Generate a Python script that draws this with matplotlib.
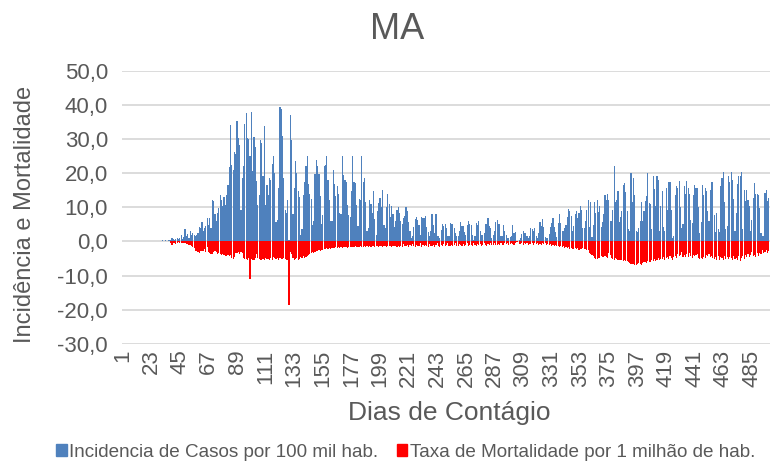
import numpy as np
import matplotlib
matplotlib.use("Agg")
import matplotlib.pyplot as plt
from matplotlib.patches import Patch
from matplotlib.ticker import FuncFormatter

# Incidencia diaria de casos por 100 mil hab. (dia 1 em diante, 7 dias por linha)
incidencia = [
    0, 0, 0, 0, 0, 0, 0,
    0, 0, 0, 0, 0, 0, 0,
    0, 0, 0, 0, 0, 0, 0,
    0.1, 0.1, 0.2, 0.1, 0.1, 0.2, 0.2,
    0.1, 0.2, 0.2, 0.3, 0.2, 0.3, 0.2,
    0.5, 0.3, 0.4, 0.9, 0.6, 0.4, 0.8,
    0.9, 0.7, 1.0, 2.0, 0.8, 1.2, 3.5,
    1.5, 2.2, 1.0, 3.0, 2.0, 2.4, 2.0,
    1.5, 2.0, 2.6, 4.2, 4.0, 5.6, 3.0,
    4.0, 4.5, 6.9, 4.8, 7.0, 4.0, 12.0,
    11.7, 7.9, 6.0, 8.3, 9.8, 13.7, 12.0,
    10.3, 12.9, 10.6, 13.5, 16.4, 21.9, 34.0,
    22.4, 21.0, 26.3, 25.5, 35.2, 30.2, 28.3,
    9.3, 18.5, 22.0, 34.4, 37.5, 30.4, 30.0,
    25.0, 38.0, 20.5, 30.5, 27.5, 17.8, 10.8,
    13.7, 29.7, 28.7, 19.0, 33.8, 10.8, 16.6,
    13.7, 18.5, 18.0, 22.7, 24.9, 20.0, 5.6,
    6.4, 15.6, 39.2, 38.7, 30.7, 18.5, 9.3,
    8.3, 12.0, 0.4, 37.0, 29.7, 7.9, 15.6,
    23.4, 20.0, 14.7, 12.9, 2.0, 3.5, 13.7,
    17.4, 22.0, 24.9, 16.9, 14.0, 12.5, 4.7,
    6.0, 19.8, 23.9, 22.1, 19.8, 13.2, 5.2,
    7.6, 22.1, 22.4, 25.0, 18.0, 12.0, 6.1,
    6.1, 21.0, 16.9, 13.2, 16.1, 14.0, 8.2,
    7.9, 25.0, 19.5, 18.0, 17.4, 10.8, 7.7,
    7.1, 14.7, 24.9, 17.4, 17.1, 10.8, 4.5,
    12.5, 12.0, 25.0, 17.4, 18.7, 11.6, 3.0,
    4.0, 12.0, 11.0, 8.4, 14.7, 6.7, 1.8,
    9.0, 11.3, 12.7, 10.0, 15.1, 4.8, 4.0,
    10.0, 13.9, 11.0, 7.1, 10.3, 7.9, 4.2,
    6.0, 9.3, 10.0, 8.3, 6.1, 5.1, 6.9,
    7.4, 10.1, 8.8, 5.6, 3.2, 1.0, 1.7,
    4.2, 6.6, 7.1, 6.4, 4.7, 2.0, 7.1,
    6.8, 6.9, 7.3, 4.3, 2.8, 1.5, 3.0,
    7.9, 4.8, 2.5, 7.9, 1.7, 1.5, 1.0,
    3.3, 5.2, 4.6, 5.1, 4.0, 1.5, 1.5,
    5.4, 5.2, 5.2, 4.0, 2.5, 1.5, 1.7,
    3.2, 5.6, 4.5, 4.5, 2.7, 1.8, 4.9,
    5.9, 5.1, 4.9, 2.0, 0.3, 1.5, 5.4,
    4.7, 6.1, 3.0, 1.8, 1.8, 2.5, 5.1,
    5.1, 6.9, 4.5, 4.0, 0.9, 2.0, 3.0,
    5.6, 6.4, 5.0, 5.0, 1.6, 1.6, 4.7,
    3.2, 1.8, 1.0, 1.0, 1.3, 1.6, 4.7,
    2.5, 2.7, 0.2, 0.1, 0.3, 1.0, 2.2,
    3.0, 2.5, 2.5, 1.5, 0.9, 1.5, 4.0,
    3.7, 3.0, 3.8, 1.5, 1.0, 2.5, 5.6,
    4.5, 6.7, 4.2, 1.4, 0.9, 0.9, 2.1,
    4.3, 5.4, 6.9, 4.2, 2.8, 1.3, 5.4,
    7.9, 5.4, 3.0, 3.0, 4.0, 4.9, 7.1,
    9.5, 8.8, 7.4, 3.0, 4.5, 8.1, 8.8,
    6.9, 8.3, 10.5, 9.3, 4.0, 3.8, 6.1,
    9.3, 12.0, 4.2, 11.6, 1.2, 4.7, 11.6,
    8.2, 12.0, 8.5, 10.3, 4.2, 5.7, 7.9,
    13.7, 12.0, 13.9, 12.0, 5.9, 5.9, 9.3,
    22.1, 11.6, 12.0, 14.9, 5.6, 7.1, 8.8,
    16.6, 17.1, 14.5, 8.8, 3.5, 3.0, 20.0,
    11.6, 18.5, 13.7, 3.2, 2.7, 4.0, 6.1,
    11.6, 6.1, 8.8, 11.8, 13.4, 20.0, 11.3,
    11.0, 3.5, 19.0, 15.3, 10.3, 19.2, 18.0,
    3.0, 10.5, 14.7, 4.2, 3.0, 15.6, 9.3,
    17.4, 17.4, 9.3, 1.1, 1.6, 13.7, 16.1,
    15.6, 17.8, 10.0, 4.0, 5.0, 16.1, 13.9,
    17.8, 15.6, 13.9, 6.4, 5.4, 13.7, 16.6,
    15.5, 15.6, 10.2, 2.5, 5.6, 16.4, 13.7,
    15.6, 14.9, 9.0, 5.9, 15.1, 17.4, 17.4,
    7.7, 2.7, 8.3, 3.5, 2.8, 16.1, 18.7,
    20.3, 11.4, 3.5, 4.5, 19.0, 17.5, 20.3,
    18.0, 12.5, 3.2, 8.3, 16.8, 19.0, 19.0,
    20.3, 3.5, 15.1, 11.8, 15.1, 12.0, 10.3,
    3.2, 6.4, 12.6, 17.1, 13.9, 13.9, 13.7,
    9.7, 2.5, 1.6, 1.6, 14.2, 15.1, 11.8,
    12.6,
]

# Taxa de mortalidade diaria por 1 milhao de hab. (desenhada para baixo)
mortalidade = [
    0, 0, 0, 0, 0, 0, 0,
    0, 0, 0, 0, 0, 0, 0,
    0, 0, 0, 0, 0, 0, 0,
    0, 0, 0, 0, 0, 0, 0,
    0, 0, 0, 0, 0, 0, 0,
    0, 0, -0.4, -1.1, -0.5, -0.6, -0.7,
    -0.4, -0.3, -0.5, -0.5, -0.6, -0.5, -0.6,
    -0.7, -0.8, -0.9, -1.0, -1.4, -1.7, -1.9,
    -2.8, -2.8, -3.0, -3.3, -2.8, -2.8, -2.8,
    -2.1, -3.0, -1.7, -3.0, -3.3, -3.6, -3.8,
    -3.0, -2.8, -3.2, -3.6, -3.5, -3.8, -3.9,
    -3.6, -4.0, -4.2, -4.3, -4.0, -4.2, -4.1,
    -4.8, -5.0, -4.5, -3.3, -3.5, -3.2, -3.6,
    -3.1, -3.5, -4.7, -5.0, -5.2, -5.4, -4.9,
    -10.9, -5.2, -5.4, -5.3, -4.9, -3.8, -4.8,
    -5.2, -5.3, -5.3, -5.1, -5.3, -4.8, -5.2,
    -5.1, -5.3, -4.8, -5.3, -4.6, -4.8, -5.1,
    -4.8, -5.3, -4.8, -5.0, -5.2, -4.8, -5.0,
    -5.4, -5.5, -18.6, -3.2, -3.6, -4.8, -5.3,
    -5.0, -4.8, -5.3, -5.2, -4.6, -4.8, -4.3,
    -4.7, -4.6, -4.4, -4.0, -3.8, -3.5, -3.2,
    -3.3, -3.0, -2.8, -2.9, -2.6, -2.7, -2.4,
    -2.5, -2.2, -2.3, -2.0, -2.1, -1.9, -2.1,
    -1.9, -1.8, -2.0, -1.7, -1.8, -1.6, -1.9,
    -1.7, -1.8, -1.6, -1.7, -1.5, -1.8, -1.6,
    -1.5, -1.7, -1.5, -1.6, -1.4, -1.6, -1.5,
    -1.7, -1.4, -1.5, -1.6, -1.3, -1.5, -1.4,
    -1.6, -1.3, -1.5, -1.4, -1.3, -1.5, -1.4,
    -1.2, -1.5, -1.4, -1.3, -1.5, -1.2, -1.4,
    -1.5, -1.3, -1.4, -1.2, -1.5, -1.3, -1.4,
    -1.2, -1.5, -1.3, -1.5, -1.2, -1.6, -0.8,
    -1.4, -1.3, -1.0, -1.5, -1.1, -1.4, -0.7,
    -1.3, -1.5, -1.0, -1.4, -1.2, -0.6, -1.5,
    -1.1, -1.4, -0.9, -1.3, -1.5, -0.7, -1.2,
    -1.4, -1.0, -1.5, -1.1, -0.6, -1.3, -1.5,
    -1.0, -1.2, -0.8, -1.4, -1.1, -0.5, -1.3,
    -1.2, -0.9, -1.4, -1.0, -0.6, -1.2, -1.3,
    -0.8, -1.1, -1.2, -0.7, -1.3, -1.0, -0.5,
    -1.2, -1.1, -0.9, -1.2, -0.6, -1.0, -1.3,
    -0.8, -1.1, -0.7, -1.2, -1.0, -0.5, -1.1,
    -1.2, -0.8, -1.0, -0.6, -1.1, -0.9, -0.5,
    -1.0, -1.1, -0.7, -1.0, -0.5, -0.9, -1.0,
    -0.6, -0.8, -0.4, -0.9, -0.7, -0.5, -0.8,
    -0.9, -0.4, -0.3, -0.2, -0.7, -0.8, -0.5,
    -0.9, -0.6, -0.8, -0.4, -0.9, -0.7, -0.8,
    -0.5, -0.9, -0.6, -0.8, -0.4, -0.9, -0.7,
    -1.0, -0.6, -0.8, -0.5, -1.0, -0.8, -1.1,
    -0.7, -1.2, -1.0, -1.3, -0.9, -1.4, -1.2,
    -1.6, -1.3, -1.7, -1.4, -1.8, -1.6, -2.0,
    -1.7, -2.2, -1.9, -2.1, -2.3, -1.8, -2.2,
    -2.0, -2.4, -2.1, -2.3, -2.0, -2.2, -2.2,
    -2.4, -2.6, -3.3, -3.6, -4.0, -4.3, -4.8,
    -5.0, -5.2, -4.9, -4.7, -4.3, -4.5, -4.6,
    -4.4, -4.5, -4.7, -3.4, -4.0, -4.8, -5.0,
    -5.4, -4.8, -5.2, -5.5, -5.3, -5.4, -5.5,
    -5.6, -5.4, -5.8, -5.7, -6.0, -6.2, -6.5,
    -6.7, -6.5, -6.8, -6.9, -6.6, -6.3, -6.5,
    -6.8, -6.4, -6.1, -6.0, -6.2, -5.8, -5.9,
    -6.1, -5.5, -5.7, -5.2, -5.6, -5.4, -4.8,
    -5.5, -5.0, -5.2, -4.6, -5.3, -4.9, -4.6,
    -5.1, -4.4, -4.8, -5.3, -4.5, -4.2, -4.9,
    -3.8, -4.3, -4.0, -3.1, -4.5, -3.9, -4.6,
    -3.8, -4.5, -3.4, -4.2, -4.7, -3.9, -4.4,
    -4.1, -3.6, -4.8, -5.1, -4.7, -5.2, -4.6,
    -4.9, -3.9, -4.4, -3.7, -4.6, -4.2, -4.8,
    -5.0, -4.5, -5.3, -4.4, -5.5, -4.6, -4.9,
    -5.3, -4.2, -5.0, -4.5, -5.2, -4.6, -4.9,
    -5.4, -4.3, -5.0, -4.7, -5.5, -4.4, -5.7,
    -4.8, -4.2, -5.0, -4.1, -4.6, -3.8, -4.5,
    -4.0, -3.2, -4.4, -3.9, -4.6, -3.5, -4.2,
    -3.4, -3.8, -2.6, -3.5, -3.1, -2.4, -3.3,
    -2.9,
]

dias = np.arange(1, len(incidencia) + 1)
ticks_dias = list(range(1, 486, 22))
ticks_y = [-30, -20, -10, 0, 10, 20, 30, 40, 50]

rotulo_casos = "Incidencia de Casos por 100 mil hab."
rotulo_obitos = "Taxa de Mortalidade por 1 milhão de hab."

AZUL = "#4F81BD"
VERMELHO = "#FF0000"
CINZA = "#595959"

plt.rcParams["font.family"] = ["Liberation Sans", "DejaVu Sans"]

fig = plt.figure(figsize=(7.7, 4.66), dpi=100)
ax = fig.add_axes([0.1584, 0.2618, 0.8416, 0.5869])

# barras diarias: casos para cima, obitos para baixo
ax.bar(dias, incidencia, width=0.88, color=AZUL, linewidth=0, zorder=3)
ax.bar(dias, mortalidade, width=0.88, color=VERMELHO, linewidth=0, zorder=3)

ax.set_xlim(0.5, 498.9)
ax.set_ylim(-30, 50)
ax.set_yticks(ticks_y)
ax.yaxis.set_major_formatter(FuncFormatter(lambda v, p: f"{v:.1f}".replace(".", ",")))
ax.set_xticks(ticks_dias)
ax.set_xticklabels([str(d) for d in ticks_dias], rotation=90)

ax.yaxis.grid(True, color="#D9D9D9", linewidth=1.3, zorder=0)
ax.set_axisbelow(True)
for s in ax.spines.values():
    s.set_visible(False)
ax.tick_params(axis="both", length=0, labelcolor=CINZA)
ax.tick_params(axis="y", labelsize=16, pad=10)
ax.tick_params(axis="x", labelsize=16, pad=4)

fig.text(0.516, 0.936, "MA", ha="center", va="center", fontsize=26, color=CINZA)
fig.text(0.033, 0.539, "Incidência e Mortalidade", rotation=90,
         ha="center", va="center", fontsize=17, color=CINZA)
fig.text(0.584, 0.114, "Dias de Contágio", ha="center", va="center",
         fontsize=19, color=CINZA)

handles = [Patch(color=AZUL), Patch(color=VERMELHO)]
fig.legend(handles, [rotulo_casos, rotulo_obitos], loc="center",
           bbox_to_anchor=(0.527, 0.03), ncol=2, frameon=False,
           fontsize=13.6, labelcolor=CINZA, handlelength=0.55, handleheight=0.55,
           handletextpad=0.12, columnspacing=1.0)

fig.savefig("out.png", dpi=100)
